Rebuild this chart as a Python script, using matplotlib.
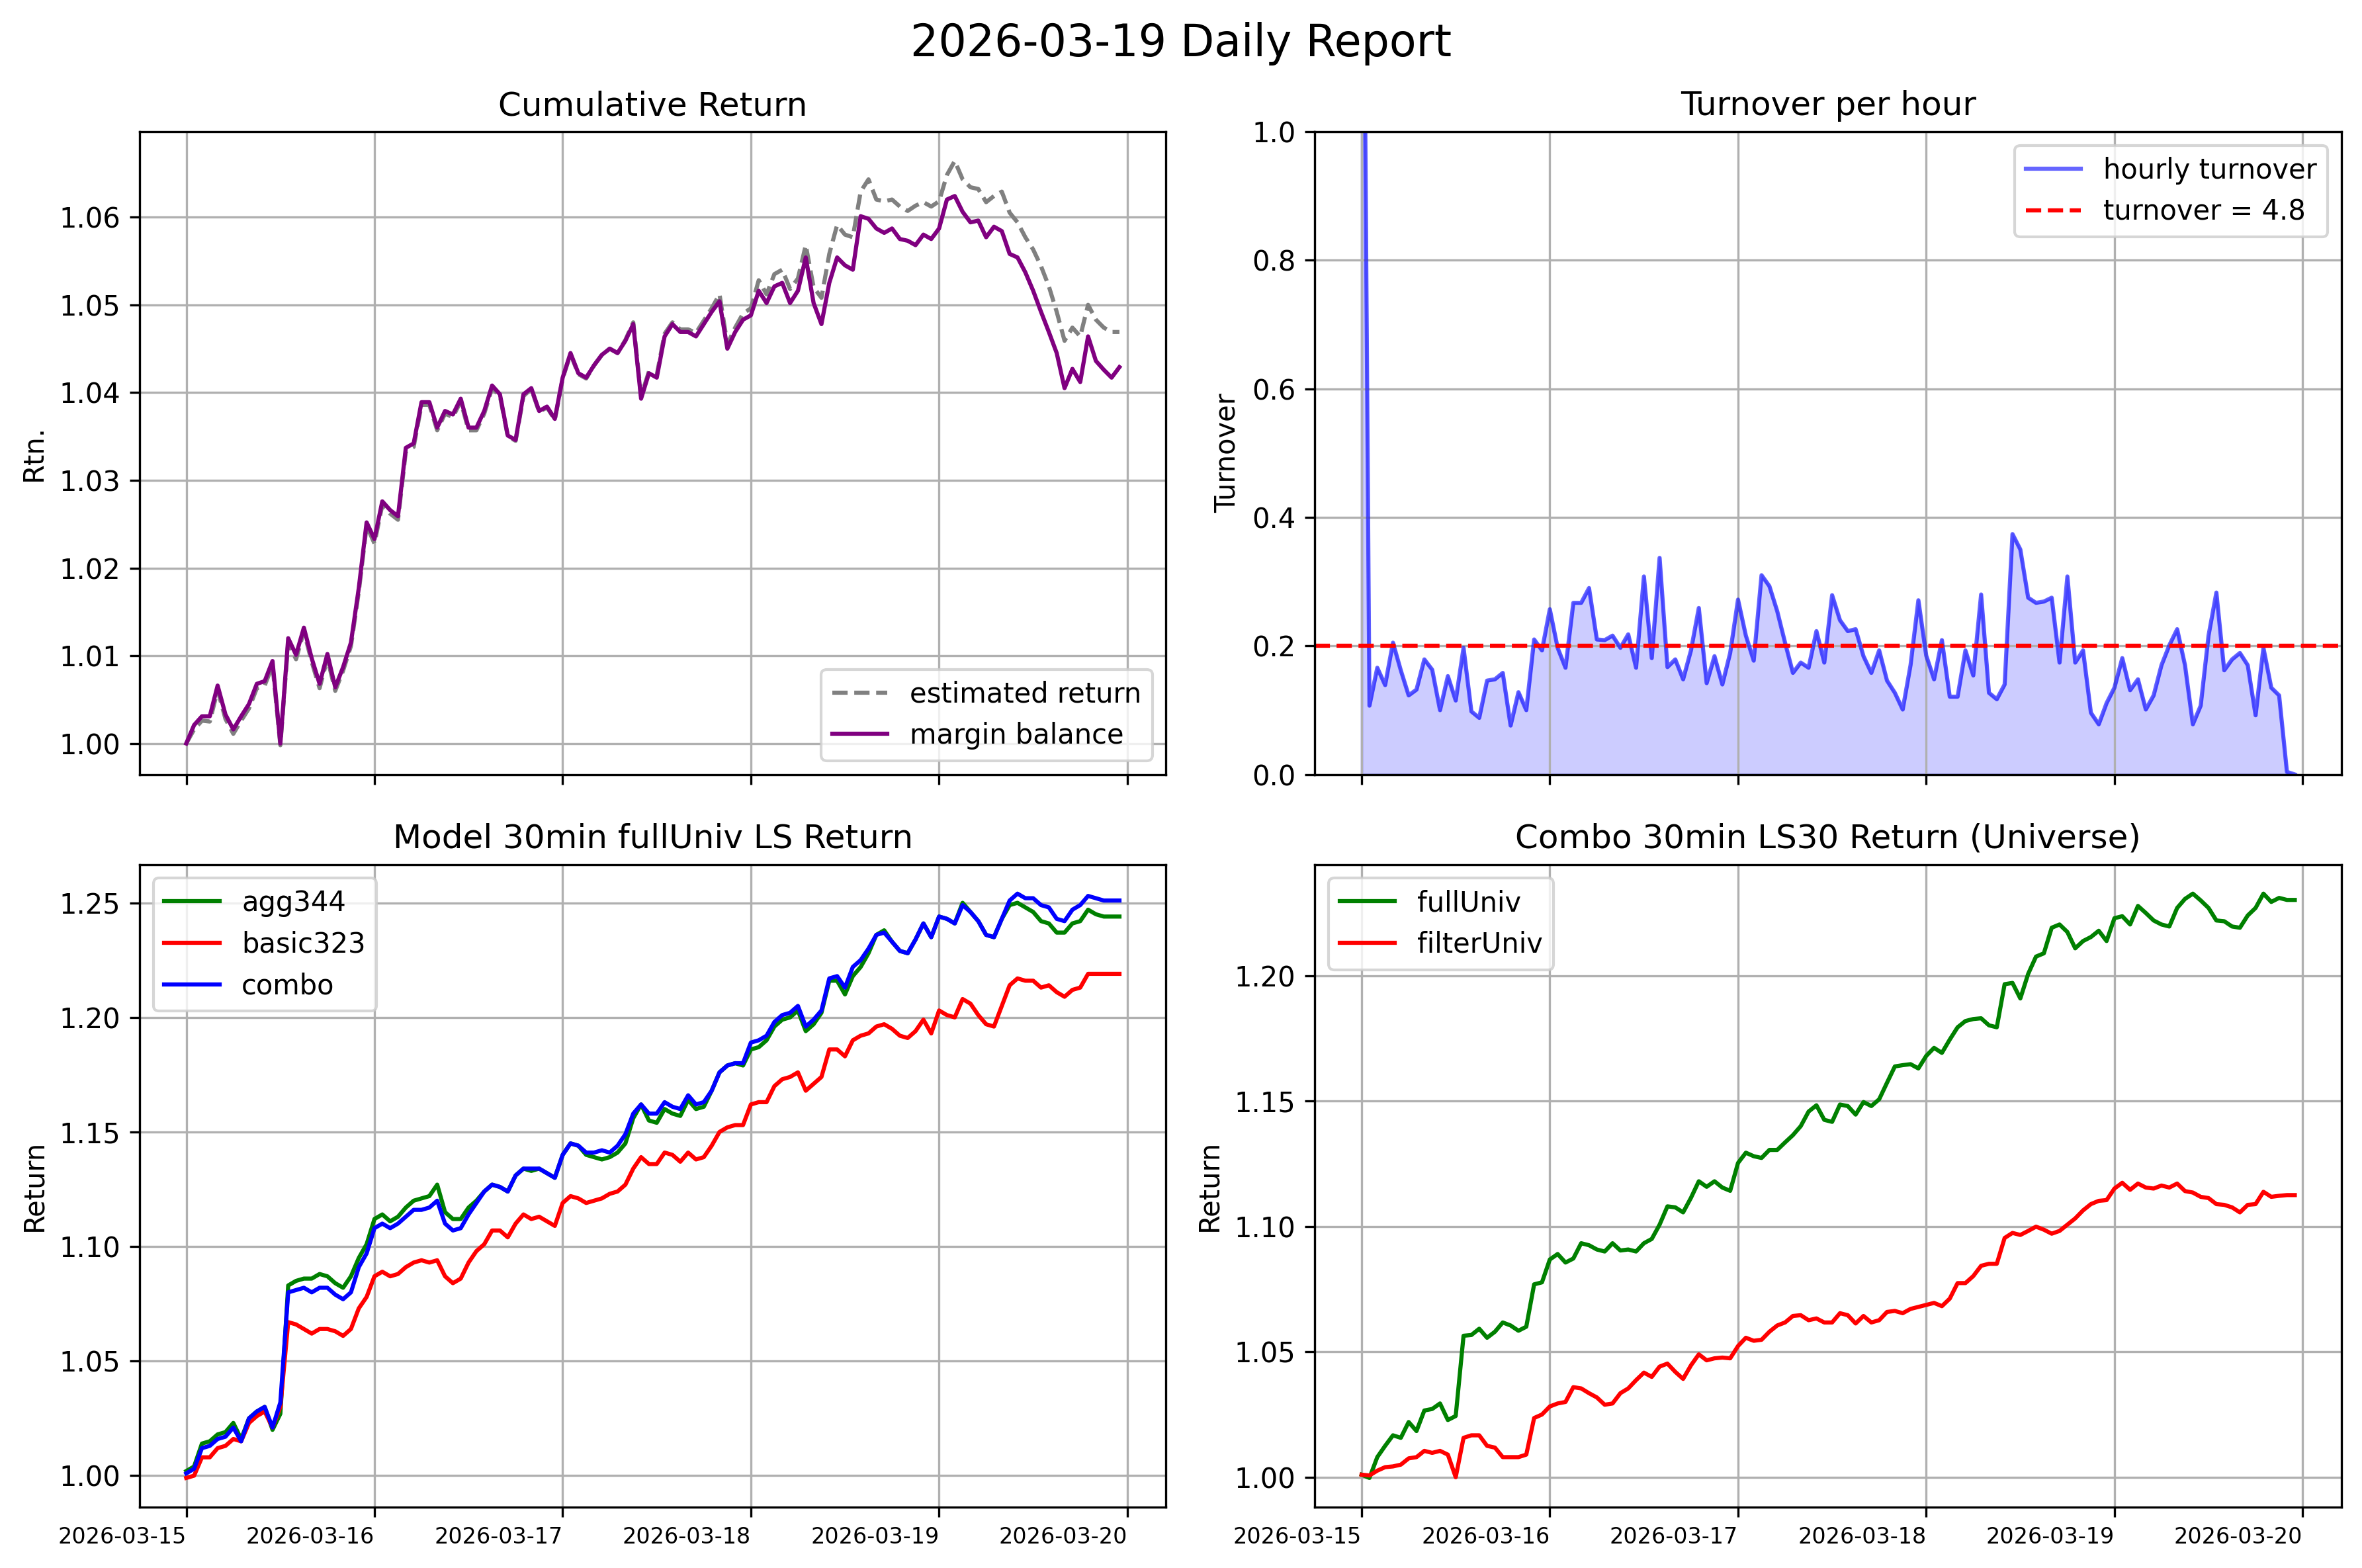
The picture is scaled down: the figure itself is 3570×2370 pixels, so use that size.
import numpy as np
import pandas as pd
from matplotlib import pyplot as plt
import matplotlib.dates as mdates

# hourly timestamps, 2026-03-15 00:00 .. 2026-03-19 23:00
horas = pd.date_range('2026-03-15 00:00', periods=120, freq='h')

# Cumulative Return
margin_balance = [
    1.0000, 1.0021, 1.0031, 1.0031, 1.0066, 1.0033, 1.0016, 1.0031, 1.0045, 1.0068,
    1.0071, 1.0094, 1.0000, 1.0120, 1.0101, 1.0132, 1.0097, 1.0068, 1.0102, 1.0064,
    1.0087, 1.0115, 1.0177, 1.0252, 1.0233, 1.0276, 1.0266, 1.0259, 1.0337, 1.0342,
    1.0389, 1.0389, 1.0360, 1.0379, 1.0375, 1.0393, 1.0360, 1.0360, 1.0379, 1.0408,
    1.0398, 1.0351, 1.0346, 1.0398, 1.0405, 1.0379, 1.0384, 1.0370, 1.0417, 1.0445,
    1.0422, 1.0417, 1.0431, 1.0443, 1.0450, 1.0445, 1.0459, 1.0478, 1.0393, 1.0422,
    1.0417, 1.0464, 1.0478, 1.0469, 1.0469, 1.0464, 1.0478, 1.0492, 1.0504, 1.0450,
    1.0469, 1.0483, 1.0488, 1.0516, 1.0502, 1.0521, 1.0525, 1.0502, 1.0516, 1.0554,
    1.0502, 1.0478, 1.0525, 1.0554, 1.0545, 1.0540, 1.0601, 1.0598, 1.0587, 1.0582,
    1.0587, 1.0575, 1.0573, 1.0568, 1.0580, 1.0575, 1.0587, 1.0620, 1.0624, 1.0606,
    1.0594, 1.0596, 1.0577, 1.0589, 1.0584, 1.0558, 1.0554, 1.0537, 1.0516, 1.0492,
    1.0469, 1.0445, 1.0405, 1.0427, 1.0412, 1.0464, 1.0436, 1.0426, 1.0417, 1.0429]
estimated_return = [
    1.0000, 1.0016, 1.0026, 1.0025, 1.0061, 1.0028, 1.0011, 1.0026, 1.0040, 1.0063,
    1.0066, 1.0089, 0.9998, 1.0115, 1.0096, 1.0128, 1.0093, 1.0063, 1.0097, 1.0060,
    1.0083, 1.0111, 1.0173, 1.0248, 1.0228, 1.0272, 1.0262, 1.0255, 1.0333, 1.0338,
    1.0386, 1.0386, 1.0357, 1.0376, 1.0372, 1.0390, 1.0357, 1.0357, 1.0376, 1.0405,
    1.0396, 1.0350, 1.0345, 1.0396, 1.0404, 1.0378, 1.0383, 1.0369, 1.0416, 1.0444,
    1.0421, 1.0416, 1.0431, 1.0443, 1.0450, 1.0445, 1.0460, 1.0480, 1.0396, 1.0424,
    1.0420, 1.0467, 1.0480, 1.0472, 1.0472, 1.0468, 1.0482, 1.0496, 1.0512, 1.0455,
    1.0474, 1.0490, 1.0496, 1.0528, 1.0512, 1.0535, 1.0540, 1.0518, 1.0530, 1.0568,
    1.0520, 1.0508, 1.0558, 1.0591, 1.0580, 1.0577, 1.0629, 1.0643, 1.0620, 1.0618,
    1.0620, 1.0612, 1.0607, 1.0613, 1.0617, 1.0612, 1.0618, 1.0648, 1.0664, 1.0643,
    1.0634, 1.0632, 1.0617, 1.0624, 1.0629, 1.0605, 1.0594, 1.0577, 1.0563, 1.0544,
    1.0521, 1.0492, 1.0459, 1.0474, 1.0464, 1.0500, 1.0483, 1.0474, 1.0469, 1.0469]

# Turnover per hour
turnover = [
    1.80, 0.107, 0.166, 0.139, 0.205, 0.162, 0.123, 0.132, 0.179, 0.163,
    0.100, 0.153, 0.115, 0.197, 0.098, 0.088, 0.146, 0.148, 0.158, 0.076,
    0.128, 0.100, 0.210, 0.193, 0.257, 0.197, 0.166, 0.267, 0.267, 0.290,
    0.210, 0.209, 0.216, 0.197, 0.218, 0.166, 0.308, 0.181, 0.337, 0.167,
    0.179, 0.148, 0.193, 0.259, 0.142, 0.184, 0.140, 0.189, 0.272, 0.216,
    0.177, 0.310, 0.293, 0.254, 0.205, 0.158, 0.174, 0.166, 0.223, 0.174,
    0.279, 0.240, 0.223, 0.226, 0.184, 0.158, 0.193, 0.146, 0.127, 0.101,
    0.170, 0.271, 0.185, 0.148, 0.209, 0.121, 0.121, 0.193, 0.154, 0.280,
    0.127, 0.117, 0.140, 0.374, 0.350, 0.275, 0.267, 0.269, 0.275, 0.174,
    0.308, 0.174, 0.193, 0.096, 0.078, 0.111, 0.135, 0.181, 0.131, 0.148,
    0.101, 0.123, 0.170, 0.201, 0.226, 0.170, 0.078, 0.107, 0.216, 0.283,
    0.162, 0.179, 0.189, 0.170, 0.092, 0.197, 0.135, 0.123, 0.004, 0.000]
turnover_objetivo = 0.2

# Model 30min fullUniv LS Return
agg344 = [
    1.002, 1.004, 1.014, 1.015, 1.018, 1.019, 1.023, 1.016, 1.025, 1.028,
    1.030, 1.020, 1.027, 1.083, 1.085, 1.086, 1.086, 1.088, 1.087, 1.084,
    1.082, 1.087, 1.095, 1.101, 1.112, 1.114, 1.111, 1.113, 1.117, 1.120,
    1.121, 1.122, 1.127, 1.115, 1.112, 1.112, 1.117, 1.120, 1.124, 1.127,
    1.126, 1.124, 1.131, 1.134, 1.133, 1.134, 1.132, 1.130, 1.140, 1.145,
    1.144, 1.140, 1.139, 1.138, 1.139, 1.141, 1.145, 1.156, 1.162, 1.155,
    1.154, 1.160, 1.158, 1.157, 1.164, 1.160, 1.161, 1.168, 1.176, 1.179,
    1.180, 1.179, 1.186, 1.187, 1.190, 1.196, 1.199, 1.200, 1.203, 1.194,
    1.197, 1.202, 1.216, 1.216, 1.210, 1.218, 1.222, 1.228, 1.236, 1.238,
    1.233, 1.229, 1.228, 1.234, 1.241, 1.235, 1.244, 1.243, 1.241, 1.250,
    1.246, 1.242, 1.236, 1.235, 1.243, 1.249, 1.250, 1.248, 1.246, 1.242,
    1.241, 1.237, 1.237, 1.241, 1.242, 1.247, 1.245, 1.244, 1.244, 1.244]
basic323 = [
    0.999, 1.000, 1.008, 1.008, 1.012, 1.013, 1.016, 1.015, 1.023, 1.026,
    1.028, 1.021, 1.030, 1.067, 1.066, 1.064, 1.062, 1.064, 1.064, 1.063,
    1.061, 1.064, 1.073, 1.078, 1.087, 1.089, 1.087, 1.088, 1.091, 1.093,
    1.094, 1.093, 1.094, 1.087, 1.084, 1.086, 1.093, 1.098, 1.101, 1.107,
    1.107, 1.104, 1.110, 1.114, 1.112, 1.113, 1.111, 1.109, 1.119, 1.122,
    1.121, 1.119, 1.120, 1.121, 1.123, 1.124, 1.127, 1.134, 1.139, 1.136,
    1.136, 1.141, 1.140, 1.137, 1.141, 1.138, 1.139, 1.144, 1.150, 1.152,
    1.153, 1.153, 1.162, 1.163, 1.163, 1.170, 1.173, 1.174, 1.176, 1.168,
    1.171, 1.174, 1.186, 1.186, 1.183, 1.190, 1.192, 1.193, 1.196, 1.197,
    1.195, 1.192, 1.191, 1.194, 1.199, 1.193, 1.203, 1.201, 1.200, 1.208,
    1.206, 1.201, 1.197, 1.196, 1.205, 1.214, 1.217, 1.216, 1.216, 1.213,
    1.214, 1.211, 1.209, 1.212, 1.213, 1.219, 1.219, 1.219, 1.219, 1.219]
combo = [
    1.001, 1.003, 1.012, 1.013, 1.016, 1.017, 1.021, 1.015, 1.025, 1.028,
    1.030, 1.021, 1.032, 1.080, 1.081, 1.082, 1.080, 1.082, 1.082, 1.079,
    1.077, 1.080, 1.091, 1.097, 1.108, 1.110, 1.108, 1.110, 1.113, 1.116,
    1.116, 1.117, 1.120, 1.110, 1.107, 1.108, 1.114, 1.119, 1.124, 1.127,
    1.126, 1.124, 1.131, 1.134, 1.134, 1.134, 1.132, 1.130, 1.140, 1.145,
    1.144, 1.141, 1.141, 1.142, 1.141, 1.144, 1.149, 1.158, 1.162, 1.158,
    1.158, 1.163, 1.161, 1.160, 1.166, 1.162, 1.163, 1.168, 1.176, 1.179,
    1.180, 1.180, 1.189, 1.190, 1.192, 1.198, 1.201, 1.202, 1.205, 1.196,
    1.199, 1.203, 1.217, 1.218, 1.213, 1.222, 1.225, 1.230, 1.236, 1.237,
    1.233, 1.229, 1.228, 1.234, 1.241, 1.235, 1.244, 1.243, 1.241, 1.249,
    1.246, 1.242, 1.236, 1.235, 1.243, 1.251, 1.254, 1.252, 1.252, 1.249,
    1.248, 1.243, 1.242, 1.247, 1.249, 1.253, 1.252, 1.251, 1.251, 1.251]

# Combo 30min LS30 Return (Universe)
full_univ = [
    1.0010, 0.9997, 1.0080, 1.0125, 1.0167, 1.0157, 1.0220, 1.0184, 1.0266, 1.0272,
    1.0294, 1.0228, 1.0244, 1.0564, 1.0567, 1.0592, 1.0556, 1.0580, 1.0617, 1.0605,
    1.0584, 1.0600, 1.0769, 1.0777, 1.0868, 1.0890, 1.0856, 1.0872, 1.0933, 1.0925,
    1.0908, 1.0900, 1.0933, 1.0904, 1.0908, 1.0900, 1.0933, 1.0950, 1.1007, 1.1080,
    1.1076, 1.1056, 1.1114, 1.1180, 1.1158, 1.1180, 1.1155, 1.1142, 1.1253, 1.1294,
    1.1280, 1.1273, 1.1305, 1.1305, 1.1335, 1.1364, 1.1400, 1.1458, 1.1483, 1.1425,
    1.1417, 1.1486, 1.1480, 1.1446, 1.1496, 1.1480, 1.1507, 1.1573, 1.1638, 1.1643,
    1.1647, 1.1630, 1.1680, 1.1712, 1.1692, 1.1745, 1.1794, 1.1819, 1.1827, 1.1830,
    1.1802, 1.1794, 1.1966, 1.1971, 1.1909, 1.2007, 1.2076, 1.2089, 1.2191, 1.2204,
    1.2174, 1.2109, 1.2138, 1.2154, 1.2179, 1.2138, 1.2229, 1.2237, 1.2204, 1.2278,
    1.2250, 1.2220, 1.2204, 1.2196, 1.2270, 1.2306, 1.2327, 1.2300, 1.2270, 1.2220,
    1.2217, 1.2196, 1.2191, 1.2240, 1.2270, 1.2327, 1.2294, 1.2310, 1.2302, 1.2302]
filter_univ = [
    1.0010, 1.0007, 1.0026, 1.0040, 1.0043, 1.0050, 1.0075, 1.0080, 1.0105, 1.0097,
    1.0105, 1.0090, 1.0000, 1.0157, 1.0167, 1.0167, 1.0125, 1.0118, 1.0080, 1.0080,
    1.0080, 1.0090, 1.0236, 1.0250, 1.0282, 1.0294, 1.0300, 1.0359, 1.0354, 1.0335,
    1.0318, 1.0289, 1.0294, 1.0335, 1.0354, 1.0387, 1.0417, 1.0400, 1.0441, 1.0453,
    1.0420, 1.0392, 1.0446, 1.0490, 1.0466, 1.0474, 1.0477, 1.0474, 1.0523, 1.0556,
    1.0544, 1.0548, 1.0580, 1.0605, 1.0617, 1.0643, 1.0646, 1.0626, 1.0633, 1.0617,
    1.0617, 1.0654, 1.0646, 1.0613, 1.0643, 1.0617, 1.0626, 1.0659, 1.0663, 1.0654,
    1.0671, 1.0679, 1.0687, 1.0695, 1.0682, 1.0712, 1.0774, 1.0774, 1.0802, 1.0843,
    1.0851, 1.0851, 1.0954, 1.0974, 1.0966, 1.0982, 1.0999, 1.0987, 1.0971, 1.0982,
    1.1007, 1.1032, 1.1064, 1.1089, 1.1102, 1.1105, 1.1151, 1.1174, 1.1146, 1.1171,
    1.1155, 1.1151, 1.1163, 1.1155, 1.1171, 1.1141, 1.1135, 1.1118, 1.1113, 1.1089,
    1.1086, 1.1076, 1.1056, 1.1086, 1.1089, 1.1138, 1.1118, 1.1122, 1.1125, 1.1125]


fig, axs = plt.subplots(2, 2, figsize=(11.9, 7.9), dpi=300, sharex=True)
fig.subplots_adjust(left=0.0591, right=0.9913, bottom=0.0388, top=0.916,
                    wspace=0.145, hspace=0.14)
fig.suptitle('2026-03-19 Daily Report', fontsize=16, y=0.986, va='top')

# retorno acumulado
ax = axs[0, 0]
ax.plot(horas, estimated_return, color='gray', linestyle='--', label='estimated return')
ax.plot(horas, margin_balance, color='purple', label='margin balance')
ax.set_title('Cumulative Return')
ax.set_ylabel('Rtn.')
ax.legend(loc='lower right')
ax.grid(True)

# turnover
ax = axs[0, 1]
ax.plot(horas, turnover, color='blue', alpha=0.6, label='hourly turnover')
ax.fill_between(horas, turnover, color='blue', alpha=0.2)
ax.axhline(turnover_objetivo, color='red', linestyle='--',
           label='turnover = ' + str(round(turnover_objetivo * 24, 1)))
ax.set_ylim(0, 1)
ax.set_title('Turnover per hour')
ax.set_ylabel('Turnover')
ax.legend(loc='upper right')
ax.grid(True)

# modelos
ax = axs[1, 0]
ax.plot(horas, agg344, color='green', label='agg344')
ax.plot(horas, basic323, color='red', label='basic323')
ax.plot(horas, combo, color='blue', label='combo')
ax.set_title('Model 30min fullUniv LS Return')
ax.set_ylabel('Return')
ax.legend(loc='upper left')
ax.grid(True)

# universos
ax = axs[1, 1]
ax.plot(horas, full_univ, color='green', label='fullUniv')
ax.plot(horas, filter_univ, color='red', label='filterUniv')
ax.set_title('Combo 30min LS30 Return (Universe)')
ax.set_ylabel('Return')
ax.legend(loc='upper left')
ax.grid(True)

for ax in axs[1]:
    ax.xaxis.set_major_locator(mdates.DayLocator())
    ax.xaxis.set_major_formatter(mdates.DateFormatter('%Y-%m-%d'))
    ax.tick_params(axis='x', labelsize=8)
    for etiqueta in ax.get_xticklabels():
        etiqueta.set_horizontalalignment('right')

fig.savefig('out.png', dpi=300)
